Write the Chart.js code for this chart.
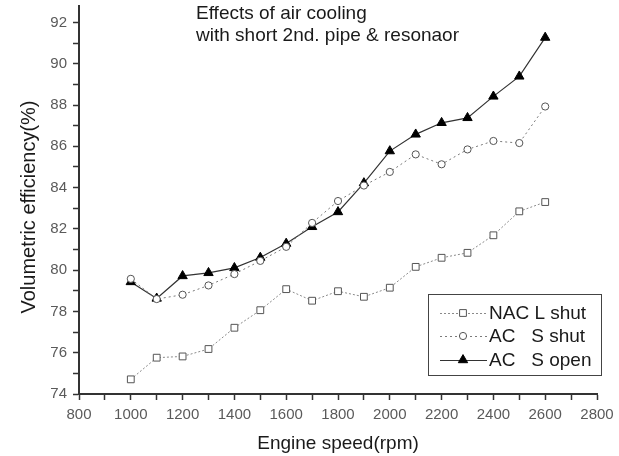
<!DOCTYPE html>
<html>
<head>
<meta charset="utf-8">
<script src="https://cdn.jsdelivr.net/npm/chart.js@4/dist/chart.umd.min.js"></script>
<style>
  html, body { margin: 0; padding: 0; background: #fff; }
  #wrap { width: 619px; height: 456px; position: relative; }
</style>
</head>
<body>
<div id="wrap"><canvas id="c" width="619" height="456"></canvas></div>
<script>
const engineSpeed = [1000, 1100, 1200, 1300, 1400, 1500, 1600, 1700, 1800, 1900, 2000, 2100, 2200, 2300, 2400, 2500, 2600];
const nacLShut = [74.71, 75.76, 75.82, 76.18, 77.21, 78.06, 79.08, 78.52, 78.98, 78.71, 79.15, 80.16, 80.60, 80.84, 81.69, 82.85, 83.30];
const acSShut  = [79.58, 78.60, 78.81, 79.26, 79.81, 80.45, 81.13, 82.29, 83.35, 84.10, 84.76, 85.61, 85.13, 85.85, 86.26, 86.16, 87.93];
const acSOpen  = [79.43, 78.63, 79.72, 79.87, 80.11, 80.61, 81.29, 82.10, 82.82, 84.22, 85.77, 86.58, 87.14, 87.38, 88.42, 89.39, 91.27];
const seriesNames = ['NAC L shut', 'AC   S shut', 'AC   S open'];
const titleLines = ['Effects of air cooling', 'with short 2nd. pipe & resonaor'];
const xTitle = 'Engine speed(rpm)';
const yTitle = 'Volumetric efficiency(%)';
const yTickValues = [74, 75, 76, 77, 78, 79, 80, 81, 82, 83, 84, 85, 86, 87, 88, 89, 90, 91, 92];

const FONT = '"Liberation Sans", Arial, sans-serif';
const pts = arr => arr.map((v, i) => ({ x: engineSpeed[i], y: v }));

const styles = [
  { borderColor: '#8a8a8a', borderWidth: 1, borderDash: [2, 2], pointStyle: 'rect', pointRadius: 4.8, pointBackgroundColor: '#fff', pointBorderColor: '#555', pointBorderWidth: 1 },
  { borderColor: '#7a7a7a', borderWidth: 1, borderDash: [2, 3], pointStyle: 'circle', pointRadius: 3.6, pointBackgroundColor: '#fff', pointBorderColor: '#555', pointBorderWidth: 1 },
  { borderColor: '#333', borderWidth: 1.2, borderDash: [], pointStyle: 'triangle', pointRadius: 5.4, pointBackgroundColor: '#000', pointBorderColor: '#000', pointBorderWidth: 1 }
];

function drawMarker(ctx, style, x, y) {
  const r = style.pointRadius;
  ctx.save();
  ctx.setLineDash([]);
  ctx.lineWidth = style.pointBorderWidth;
  ctx.strokeStyle = style.pointBorderColor;
  ctx.fillStyle = style.pointBackgroundColor;
  ctx.beginPath();
  if (style.pointStyle === 'rect') {
    const s = Math.SQRT1_2 * r;
    ctx.rect(x - s, y - s, 2 * s, 2 * s);
  } else if (style.pointStyle === 'circle') {
    ctx.arc(x, y, r, 0, Math.PI * 2);
  } else {
    let a = 0;
    ctx.moveTo(x + Math.sin(a) * r, y - Math.cos(a) * r);
    a += 2 * Math.PI / 3;
    ctx.lineTo(x + Math.sin(a) * r, y - Math.cos(a) * r);
    a += 2 * Math.PI / 3;
    ctx.lineTo(x + Math.sin(a) * r, y - Math.cos(a) * r);
    ctx.closePath();
  }
  ctx.fill();
  ctx.stroke();
  ctx.restore();
}

const overlay = {
  id: 'overlay',
  afterDraw(chart) {
    const ctx = chart.ctx;
    ctx.save();
    // title text
    ctx.fillStyle = '#1a1a1a';
    ctx.font = '19px ' + FONT;
    ctx.textBaseline = 'alphabetic';
    ctx.textAlign = 'left';
    ctx.fillText(titleLines[0], 196, 19);
    ctx.fillText(titleLines[1], 196, 41);
    // y axis title
    ctx.save();
    ctx.translate(29, 207);
    ctx.rotate(-Math.PI / 2);
    ctx.textAlign = 'center';
    ctx.textBaseline = 'middle';
    ctx.font = '20px ' + FONT;
    ctx.fillStyle = '#1a1a1a';
    ctx.fillText(yTitle, 0, 0);
    ctx.restore();
    // legend box
    const bx = 428, by = 294, bw = 173, bh = 81;
    ctx.fillStyle = '#fff';
    ctx.fillRect(bx, by, bw, bh);
    ctx.strokeStyle = '#444';
    ctx.lineWidth = 1;
    ctx.strokeRect(bx + 0.5, by + 0.5, bw, bh);
    const rows = [313, 336, 360];
    styles.forEach((st, i) => {
      const y = rows[i];
      ctx.save();
      ctx.strokeStyle = st.borderColor;
      ctx.lineWidth = st.borderWidth;
      ctx.setLineDash(st.borderDash);
      ctx.beginPath();
      ctx.moveTo(440, y + 0.5);
      ctx.lineTo(487, y + 0.5);
      ctx.stroke();
      ctx.restore();
      drawMarker(ctx, st, 463, y);
      ctx.fillStyle = '#1a1a1a';
      ctx.font = '19px ' + FONT;
      ctx.textBaseline = 'middle';
      ctx.textAlign = 'left';
      ctx.fillText(seriesNames[i], 489, y + 1);
    });
    ctx.restore();
  }
};

new Chart(document.getElementById('c'), {
  type: 'line',
  data: {
    datasets: [nacLShut, acSShut, acSOpen].map((arr, i) => Object.assign({
      label: seriesNames[i],
      data: pts(arr),
      fill: false,
      tension: 0
    }, styles[i]))
  },
  options: {
    responsive: false,
    animation: false,
    layout: { padding: { top: 0, right: 22, left: 0, bottom: 0 } },
    plugins: { legend: { display: false }, tooltip: { enabled: false } },
    scales: {
      x: {
        type: 'linear',
        min: 800, max: 2800,
        afterFit: s => { s.height = 62; s.paddingLeft = 0; s.paddingRight = 0; },
        ticks: {
          stepSize: 100,
          autoSkip: false,
          maxRotation: 0,
          color: '#5a5a5a',
          padding: 6,
          font: { family: FONT, size: 15 },
          callback: v => (v % 200 === 0 ? String(v) : '')
        },
        grid: { drawOnChartArea: false, drawTicks: true, tickLength: 6, tickColor: '#333', tickWidth: 1.5 },
        border: { color: '#333', width: 2 },
        title: {
          display: true, text: xTitle, color: '#1a1a1a',
          font: { family: FONT, size: 19 },
          padding: { top: 0, bottom: 1 }
        }
      },
      y: {
        type: 'linear',
        min: 74, max: 92.78,
        afterBuildTicks: s => { s.ticks = yTickValues.map(v => ({ value: v })); },
        afterFit: s => { s.width = 79; s.paddingTop = 0; s.paddingBottom = 0; },
        ticks: {
          autoSkip: false,
          color: '#5a5a5a',
          padding: 6,
          font: { family: FONT, size: 15 },
          callback: v => (v % 2 === 0 ? String(v) : '')
        },
        grid: { drawOnChartArea: false, drawTicks: true, tickLength: 6, tickColor: '#333', tickWidth: 1.5 },
        border: { color: '#333', width: 2 },
        title: { display: false }
      }
    }
  },
  plugins: [overlay]
});
</script>
</body>
</html>
